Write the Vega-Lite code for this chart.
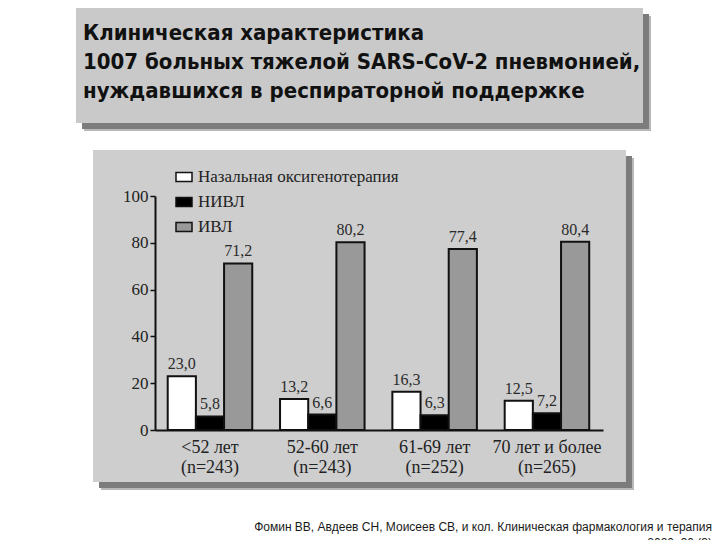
{
  "$schema": "https://vega.github.io/schema/vega-lite/v6.json",
  "width": 448,
  "height": 234,
  "autosize": {"type": "none"},
  "padding": {"left": 155, "top": 196, "right": 117, "bottom": 110},
  "background": "#ffffff",
  "config": {
    "view": {"stroke": null},
    "locale": {"number": {"decimal": ",", "thousands": " ", "grouping": [3], "currency": ["", ""]}}
  },
  "resolve": {"scale": {"x": "independent"}},
  "layer": [
    {
      "data": {"values": [{}]},
      "layer": [
        {"mark": {"type": "rect", "color": "#b8b8b8"},
         "encoding": {
           "x": {"datum": -15.84, "type": "quantitative", "scale": {"domain": [0, 100]}, "axis": null},
           "x2": {"datum": 110.72},
           "y": {"datum": 176.9, "type": "quantitative", "scale": {"domain": [0, 100]}},
           "y2": {"datum": 127.8}}},
        {"mark": {"type": "rect", "color": "#7c7c7c"},
         "encoding": {
           "x": {"datum": -16.29, "type": "quantitative", "scale": {"domain": [0, 100]}, "axis": null},
           "x2": {"datum": 110.27},
           "y": {"datum": 177.78, "type": "quantitative", "scale": {"domain": [0, 100]}},
           "y2": {"datum": 128.63}}},
        {"mark": {"type": "rect", "color": "#c9c9c9"},
         "encoding": {
           "x": {"datum": -17.63, "type": "quantitative", "scale": {"domain": [0, 100]}, "axis": null},
           "x2": {"datum": 108.93},
           "y": {"datum": 180.34, "type": "quantitative", "scale": {"domain": [0, 100]}},
           "y2": {"datum": 131.2}}},
        {"mark": {"type": "rect", "color": "#b8b8b8"},
         "encoding": {
           "x": {"datum": -12.05, "type": "quantitative", "scale": {"domain": [0, 100]}, "axis": null},
           "x2": {"datum": 106.92},
           "y": {"datum": 116.24, "type": "quantitative", "scale": {"domain": [0, 100]}},
           "y2": {"datum": -25.64}}},
        {"mark": {"type": "rect", "color": "#7c7c7c"},
         "encoding": {
           "x": {"datum": -12.5, "type": "quantitative", "scale": {"domain": [0, 100]}, "axis": null},
           "x2": {"datum": 106.47},
           "y": {"datum": 117.1, "type": "quantitative", "scale": {"domain": [0, 100]}},
           "y2": {"datum": -24.79}}},
        {"mark": {"type": "rect", "color": "#cecece"},
         "encoding": {
           "x": {"datum": -13.84, "type": "quantitative", "scale": {"domain": [0, 100]}, "axis": null},
           "x2": {"datum": 105.13},
           "y": {"datum": 119.66, "type": "quantitative", "scale": {"domain": [0, 100]}},
           "y2": {"datum": -22.22}}},
        {"mark": {"type": "text", "text": ["Клиническая характеристика", "1007 больных тяжелой SARS-CoV-2 пневмонией,", "нуждавшихся в респираторной поддержке"],
                  "font": "DejaVu Sans Condensed", "fontWeight": "bold", "fontSize": 22, "lineHeight": 29,
                  "align": "left", "baseline": "alphabetic", "color": "#111111"},
         "encoding": {
           "x": {"datum": -16.07, "type": "quantitative", "scale": {"domain": [0, 100]}, "axis": null},
           "y": {"datum": 166.5, "type": "quantitative", "scale": {"domain": [0, 100]}}}},
        {"mark": {"type": "text", "text": "Фомин ВВ, Авдеев СН, Моисеев СВ, и кол. Клиническая фармакология и терапия",
                  "font": "Liberation Sans", "fontSize": 12, "align": "right", "baseline": "middle", "color": "#1a1a1a"},
         "encoding": {
           "x": {"datum": 124.33, "type": "quantitative", "scale": {"domain": [0, 100]}, "axis": null},
           "y": {"datum": -41.45, "type": "quantitative", "scale": {"domain": [0, 100]}}}},
        {"mark": {"type": "text", "text": "2020; 30 (3)",
                  "font": "Liberation Sans", "fontSize": 12, "align": "right", "baseline": "middle", "color": "#1a1a1a"},
         "encoding": {
           "x": {"datum": 124.33, "type": "quantitative", "scale": {"domain": [0, 100]}, "axis": null},
           "y": {"datum": -48.5, "type": "quantitative", "scale": {"domain": [0, 100]}}}}
      ]
    },
    {
      "data": {"values": [
        {"group": "<52 лет (n=243)", "type": "Назальная оксигенотерапия", "value": 23.0},
        {"group": "<52 лет (n=243)", "type": "НИВЛ", "value": 5.8},
        {"group": "<52 лет (n=243)", "type": "ИВЛ", "value": 71.2},
        {"group": "52-60 лет (n=243)", "type": "Назальная оксигенотерапия", "value": 13.2},
        {"group": "52-60 лет (n=243)", "type": "НИВЛ", "value": 6.6},
        {"group": "52-60 лет (n=243)", "type": "ИВЛ", "value": 80.2},
        {"group": "61-69 лет (n=252)", "type": "Назальная оксигенотерапия", "value": 16.3},
        {"group": "61-69 лет (n=252)", "type": "НИВЛ", "value": 6.3},
        {"group": "61-69 лет (n=252)", "type": "ИВЛ", "value": 77.4},
        {"group": "70 лет и более (n=265)", "type": "Назальная оксигенотерапия", "value": 12.5},
        {"group": "70 лет и более (n=265)", "type": "НИВЛ", "value": 7.2},
        {"group": "70 лет и более (n=265)", "type": "ИВЛ", "value": 80.4}
      ]},
      "encoding": {
        "x": {"field": "group", "type": "nominal", "sort": null,
              "scale": {"paddingInner": 0.2475, "paddingOuter": 0.118, "align": 0.48},
              "axis": {"title": null, "ticks": false, "domainColor": "#111111", "domainWidth": 2, "labelAngle": 0,
                       "labelFont": "Liberation Serif", "labelFontSize": 18, "labelColor": "#222222", "labelPadding": 8,
                       "labelLineHeight": 20, "zindex": 1,
                       "labelExpr": "[slice(datum.label, 0, indexof(datum.label, ' (')), slice(datum.label, indexof(datum.label, ' (') + 1)]"}},
        "xOffset": {"field": "type", "type": "nominal", "sort": ["Назальная оксигенотерапия", "НИВЛ", "ИВЛ"],
                    "scale": {"paddingInner": 0, "paddingOuter": 0}},
        "y": {"field": "value", "type": "quantitative", "scale": {"domain": [0, 100]},
              "axis": {"title": null, "values": [0, 20, 40, 60, 80, 100], "grid": false, "domainColor": "#111111", "domainWidth": 2,
                       "tickColor": "#111111", "tickWidth": 1.5, "tickSize": 5, "labelFont": "Liberation Serif", "labelFontSize": 17,
                       "labelColor": "#222222", "labelPadding": 2, "zindex": 1}}
      },
      "layer": [
        {"mark": {"type": "bar", "stroke": "#111111", "strokeWidth": 2},
         "encoding": {
           "fill": {"field": "type", "type": "nominal",
                    "scale": {"domain": ["Назальная оксигенотерапия", "НИВЛ", "ИВЛ"], "range": ["#ffffff", "#000000", "#999999"]},
                    "legend": {"orient": "none", "legendX": 20, "legendY": -28, "title": null, "labelLimit": 0,
                               "symbolType": "M-1,-0.55H1V0.55H-1Z", "symbolSize": 256, "symbolStrokeColor": "#111111",
                               "symbolStrokeWidth": 1.5, "labelFont": "Liberation Serif", "labelFontSize": 17,
                               "labelColor": "#222222", "rowPadding": 8, "labelOffset": 5, "zindex": 1}}}},
        {"mark": {"type": "text", "baseline": "bottom", "dy": -4, "font": "Liberation Serif", "fontSize": 16, "color": "#2a2a2a"},
         "encoding": {"text": {"field": "value", "type": "quantitative", "format": ".1f"}}}
      ]
    }
  ]
}
